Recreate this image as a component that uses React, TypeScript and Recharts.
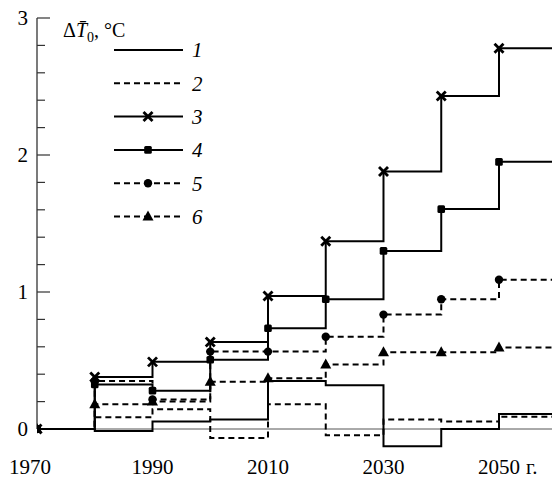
import React from 'react';
import { LineChart, Line, XAxis, YAxis, ReferenceLine, Legend } from 'recharts';

const years = [1970, 1980, 1990, 2000, 2010, 2020, 2030, 2040, 2050];
const s1 = [0, -0.015, 0.055, 0.07, 0.35, 0.32, -0.125, 0.0, 0.11];
const s2 = [0, 0.085, 0.145, -0.065, 0.18, -0.045, 0.07, 0.055, 0.09];
const s3 = [0, 0.38, 0.49, 0.635, 0.97, 1.37, 1.88, 2.43, 2.78];
const s4 = [0, 0.325, 0.28, 0.505, 0.735, 0.947, 1.3, 1.605, 1.95];
const s5 = [0, 0.35, 0.215, 0.565, 0.565, 0.674, 0.835, 0.947, 1.09];
const s6 = [0, 0.18, 0.2, 0.345, 0.37, 0.47, 0.56, 0.56, 0.595];

const seriesNames = ['1', '2', '3', '4', '5', '6'];
const seriesKeys = ['s1', 's2', 's3', 's4', 's5', 's6'];
const seriesDashed = [false, true, false, false, true, true];
const seriesMarkers = ['none', 'none', 'cross', 'square', 'circle', 'triangle'];

const xTicks = [1970, 1990, 2010, 2030, 2050];
const xTickLabels = ['1970', '1990', '2010', '2030', '2050 г.'];
const yTicks = [0, 0.2, 0.4, 0.6, 0.8, 1, 1.2, 1.4, 1.6, 1.8, 2, 2.2, 2.4, 2.6, 2.8, 3];
const endYear = 2060; // last step continues to the right edge

const allSeries = [s1, s2, s3, s4, s5, s6];
const rows: any[] = years.map((yr, i) => {
  const r: any = { year: yr };
  seriesKeys.forEach((k, j) => (r[k] = allSeries[j][i]));
  return r;
});
{
  const last: any = { year: endYear, ext: true };
  seriesKeys.forEach((k, j) => (last[k] = allSeries[j][years.length - 1]));
  rows.push(last);
}

const FONT = 'Liberation Serif, Tinos, Times New Roman, serif';
const txt = (extra: any = {}) => ({ fontFamily: FONT, fontSize: 21, ...extra });

function Marker({ shape, cx, cy }: { shape: string; cx: number; cy: number }) {
  if (shape === 'cross') {
    const d = 4.5;
    return (
      <g stroke="#000" strokeWidth={2.8} strokeLinecap="butt">
        <line x1={cx - d} y1={cy - d} x2={cx + d} y2={cy + d} />
        <line x1={cx - d} y1={cy + d} x2={cx + d} y2={cy - d} />
      </g>
    );
  }
  if (shape === 'square') {
    return <rect x={cx - 3.8} y={cy - 3.8} width={7.6} height={7.6} rx={1.5} fill="#000" />;
  }
  if (shape === 'circle') {
    return <circle cx={cx} cy={cy} r={4.2} fill="#000" />;
  }
  if (shape === 'triangle') {
    return <polygon points={`${cx},${cy - 6} ${cx - 5.5},${cy + 4} ${cx + 5.5},${cy + 4}`} fill="#000" />;
  }
  return null;
}

const YTick = (props: any) => {
  const { x, y, payload } = props;
  const v = payload.value;
  const major = Math.abs(v - Math.round(v)) < 1e-6;
  return (
    <g>
      {v > 0 && (
        <line x1={x} x2={x + (major ? 13 : 8)} y1={y} y2={y} stroke="#333" strokeWidth={1.2} />
      )}
      {major && (
        <text x={x - 9} y={y} dy="0.35em" textAnchor="end" style={txt()} fill="#000">
          {String(Math.round(v))}
        </text>
      )}
    </g>
  );
};

const XTick = (props: any) => {
  const { x, y, payload, index } = props;
  const i = xTicks.indexOf(payload.value);
  const label = xTickLabels[i >= 0 ? i : index] || '';
  const parts = label.split(' ');
  const shift = i === 0 ? -7 : 0;
  return (
    <g>
      <text x={x + shift} y={y + 17.5} textAnchor="middle" style={txt()} fill="#000">
        {parts[0]}
      </text>
      {parts.length > 1 && (
        <text x={x + 27} y={y + 17.5} textAnchor="start" style={txt()} fill="#000">
          {parts.slice(1).join(' ')}
        </text>
      )}
    </g>
  );
};

const LegendContent = () => {
  const rowY = (k: number) => 20 + k * 33.3;
  return (
    <svg width={130} height={210} style={{ overflow: 'visible', display: 'block' }}>
      {seriesNames.map((name, k) => (
        <g key={name}>
          <line
            x1={14}
            x2={83}
            y1={rowY(k)}
            y2={rowY(k)}
            stroke="#000"
            strokeWidth={2}
            strokeDasharray={seriesDashed[k] ? '6 4' : undefined}
          />
          <Marker shape={seriesMarkers[k]} cx={48} cy={rowY(k)} />
          <text x={92} y={rowY(k)} dy="0.35em" style={txt({ fontStyle: 'italic' })} fill="#000">
            {name}
          </text>
        </g>
      ))}
    </svg>
  );
};

const YLabel = () => (
  <text x={63} y={37} style={txt({ fontSize: 20 })} fill="#000">
    Δ
    <tspan style={{ fontStyle: 'italic' }}>T̄</tspan>
    <tspan dy={5} style={{ fontSize: 14 }}>0</tspan>
    <tspan dy={-5}>, °C</tspan>
  </text>
);

export default function App() {
  return (
    <div style={{ position: 'absolute', left: 0, top: 0, width: 552, height: 478, background: '#fff' }}>
      <LineChart
        width={552}
        height={478}
        data={rows}
        margin={{ top: 18, right: 0, bottom: 0, left: 0 }}
      >
        <XAxis
          dataKey="year"
          type="number"
          domain={[1970, 2059.18]}
          allowDataOverflow
          ticks={xTicks}
          interval={0}
          tick={<XTick />}
          tickLine={false}
          axisLine={false}
          tickSize={0}
          tickMargin={0}
          height={21.6}
        />
        <YAxis
          type="number"
          domain={[-0.2, 3]}
          allowDataOverflow
          ticks={yTicks}
          interval={0}
          tick={<YTick />}
          tickLine={false}
          axisLine={false}
          tickSize={0}
          tickMargin={0}
          width={37}
          label={{ content: () => <YLabel /> }}
        />
        <ReferenceLine y={0} stroke="#555" strokeWidth={1} />
        <ReferenceLine
          segment={[
            { x: 1970, y: 0 },
            { x: 1970, y: 3 },
          ]}
          stroke="#333"
          strokeWidth={1.3}
        />
        {seriesKeys.map((k, j) => (
          <Line
            key={k}
            dataKey={k}
            name={seriesNames[j]}
            type="stepAfter"
            stroke="#000"
            strokeWidth={2}
            strokeDasharray={seriesDashed[j] ? '6 4' : undefined}
            isAnimationActive={false}
            activeDot={false}
            dot={(p: any) =>
              p.payload.ext || seriesMarkers[j] === 'none' ? (
                <g key={`${k}-${p.index}`} />
              ) : (
                <g key={`${k}-${p.index}`}>
                  <Marker shape={seriesMarkers[j]} cx={p.cx} cy={p.cy} />
                </g>
              )
            }
          />
        ))}
        <Legend
          layout="vertical"
          align="center"
          verticalAlign="middle"
          wrapperStyle={{ left: 100, top: 30, width: 130, height: 210 }}
          content={() => <LegendContent />}
        />
      </LineChart>
    </div>
  );
}
